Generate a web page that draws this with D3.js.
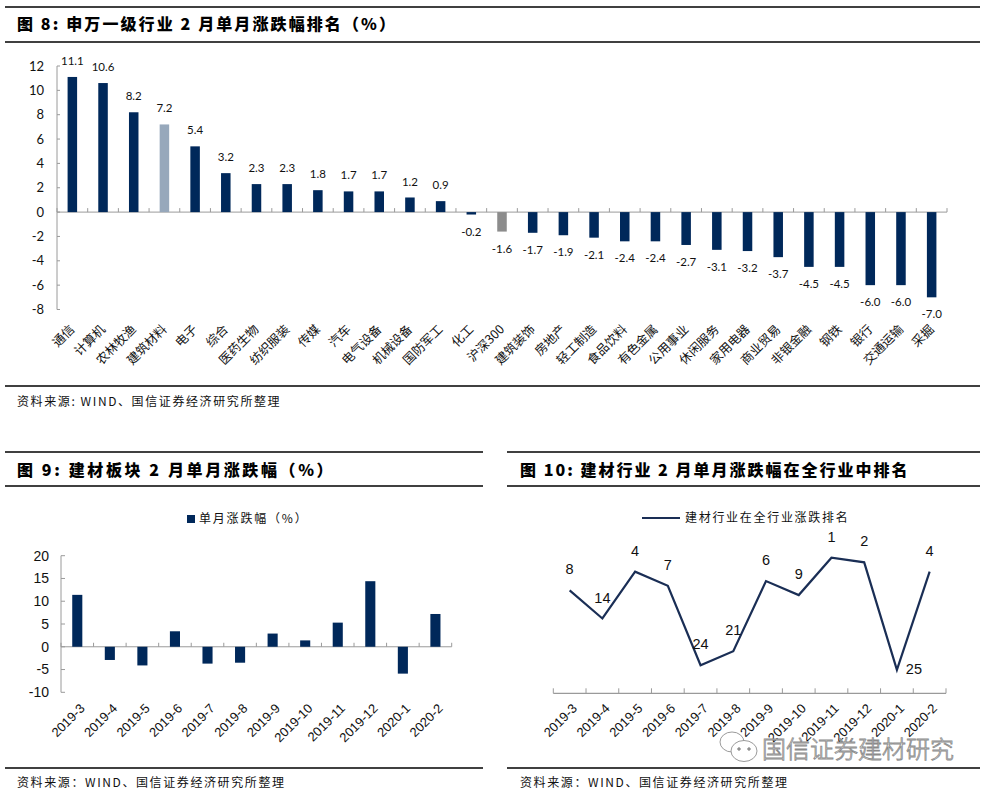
<!DOCTYPE html>
<html><head><meta charset="utf-8">
<script src="https://cdn.jsdelivr.net/npm/d3@7/dist/d3.min.js"></script>
<style>
html,body{margin:0;padding:0;background:#fff;}
svg{display:block;}
</style></head>
<body>
<svg id="c" width="984" height="795"></svg>
<script>
// ---- Data: Figure 8 ----
const industries = ["通信","计算机","农林牧渔","建筑材料","电子","综合","医药生物","纺织服装","传媒","汽车","电气设备","机械设备","国防军工","化工","沪深300","建筑装饰","房地产","轻工制造","食品饮料","有色金属","公用事业","休闲服务","家用电器","商业贸易","非银金融","钢铁","银行","交通运输","采掘"];
const industryChange = [11.1,10.6,8.2,7.2,5.4,3.2,2.3,2.3,1.8,1.7,1.7,1.2,0.9,-0.2,-1.6,-1.7,-1.9,-2.1,-2.4,-2.4,-2.7,-3.1,-3.2,-3.7,-4.5,-4.5,-6.0,-6.0,-7.0];
const fig8Ticks = [-8,-6,-4,-2,0,2,4,6,8,10,12];

// ---- Data: Figure 9 ----
const months = ["2019-3","2019-4","2019-5","2019-6","2019-7","2019-8","2019-9","2019-10","2019-11","2019-12","2020-1","2020-2"];
const sectorChange = [11.4,-2.9,-4.1,3.4,-3.7,-3.5,2.9,1.4,5.3,14.4,-5.9,7.2];
const fig9Ticks = [-10,-5,0,5,10,15,20];

// ---- Data: Figure 10 ----
const sectorRank = [8,14,4,7,24,21,6,9,1,2,25,4];

const svg = d3.select("#c");
const NAVY = "#00285a";
const AXIS = "#9a9a9a";
const CJK = "'Noto Sans CJK SC', sans-serif";
const NUM = "Lato, 'Liberation Sans', sans-serif";
const ARIAL = "'Liberation Sans', Arial, sans-serif";

function hline(x1,x2,y,w){
  svg.append("line").attr("x1",x1).attr("x2",x2).attr("y1",y).attr("y2",y)
    .attr("stroke","#000").attr("stroke-width",w||1.3);
}
function title(x,y,t,ls){
  svg.append("text").attr("x",x).attr("y",y).attr("dy","0.35em")
    .attr("font-family",CJK).attr("font-weight",900).attr("font-size",16)
    .attr("letter-spacing",ls).attr("fill","#000").text(t);
}
function source(x,y,t){
  svg.append("text").attr("x",x).attr("y",y).attr("dy","0.35em")
    .attr("font-family",CJK).attr("font-size",12).attr("letter-spacing",1.6)
    .attr("fill","#111").text(t);
}

// ================= Figure 8 =================
hline(5,980,7);
title(17,24,"图 8:  申万一级行业 2 月单月涨跌幅排名（%）",2.1);
hline(5,980,42);

const x8 = d3.scaleBand().domain(industries).range([57,947]).paddingInner(0.69).paddingOuter(0.345);
const y8 = d3.scaleLinear().domain([-8,12]).range([309.5,66]);
const g8 = svg.append("g");

// y axis
g8.append("line").attr("x1",57).attr("x2",57).attr("y1",y8(12)).attr("y2",y8(-8)).attr("stroke",AXIS);
g8.selectAll(".yt8").data(fig8Ticks).join("line")
  .attr("x1",57).attr("x2",60).attr("y1",d=>y8(d)).attr("y2",d=>y8(d)).attr("stroke",AXIS);
g8.selectAll(".yl8").data(fig8Ticks).join("text")
  .attr("x",44).attr("y",d=>y8(d)).attr("dy","0.35em").attr("text-anchor","end")
  .attr("font-family",NUM).attr("font-size",13).attr("fill","#111").text(d=>d);

// x axis at zero
g8.append("line").attr("x1",57).attr("x2",947).attr("y1",y8(0)).attr("y2",y8(0)).attr("stroke",AXIS);
const step8 = x8.step();
g8.selectAll(".xt8").data(d3.range(industries.length+1)).join("line")
  .attr("x1",i=>57+i*step8).attr("x2",i=>57+i*step8)
  .attr("y1",y8(0)).attr("y2",y8(0)-4).attr("stroke",AXIS);

function barColor8(d){
  if(d==="建筑材料") return "#97a8bb";
  if(d==="沪深300") return "#8c8c8c";
  return NAVY;
}
g8.selectAll(".b8").data(industries).join("rect")
  .attr("x",d=>x8(d)).attr("width",x8.bandwidth())
  .attr("y",(d,i)=>y8(Math.max(0,industryChange[i])))
  .attr("height",(d,i)=>Math.abs(y8(industryChange[i])-y8(0)))
  .attr("fill",barColor8);

g8.selectAll(".v8").data(industries).join("text")
  .attr("x",d=>x8(d)+x8.bandwidth()/2)
  .attr("y",(d,i)=>industryChange[i]>=0 ? y8(industryChange[i])-16 : y8(industryChange[i])+17)
  .attr("dy","0.35em").attr("text-anchor","middle")
  .attr("font-family",NUM).attr("font-size",11.5).attr("fill","#111")
  .text((d,i)=>industryChange[i].toFixed(1));

g8.selectAll(".xl8").data(industries).join("text")
  .attr("transform",d=>`translate(${x8(d)+x8.bandwidth()/2},${327}) rotate(-45)`)
  .attr("text-anchor","end").attr("dy","0.35em")
  .attr("font-family",CJK).attr("font-size",12.5).attr("fill","#111").text(d=>d);

hline(5,980,386);
source(17,402,"资料来源: WIND、国信证券经济研究所整理");

// ================= Figure 9 =================
hline(5,483,452);
title(17,470,"图 9:  建材板块 2 月单月涨跌幅（%）",2.6);
hline(5,483,486);

const x9 = d3.scaleBand().domain(months).range([61,451.7]).paddingInner(0.69).paddingOuter(0.345);
const y9 = d3.scaleLinear().domain([-10,20]).range([692.3,555.7]);
const g9 = svg.append("g");

// legend
g9.append("rect").attr("x",187).attr("y",515).attr("width",8).attr("height",8).attr("fill",NAVY);
g9.append("text").attr("x",199).attr("y",519).attr("dy","0.35em").attr("letter-spacing",1.8)
  .attr("font-family",CJK).attr("font-size",12).attr("fill","#111").text("单月涨跌幅（%）");

g9.append("line").attr("x1",61).attr("x2",61).attr("y1",y9(20)).attr("y2",y9(-10)).attr("stroke",AXIS);
g9.selectAll(".yt9").data(fig9Ticks).join("line")
  .attr("x1",61).attr("x2",65).attr("y1",d=>y9(d)).attr("y2",d=>y9(d)).attr("stroke",AXIS);
g9.selectAll(".yl9").data(fig9Ticks).join("text")
  .attr("x",49).attr("y",d=>y9(d)).attr("dy","0.35em").attr("text-anchor","end")
  .attr("font-family",ARIAL).attr("font-size",14).attr("fill","#111").text(d=>d);

g9.append("line").attr("x1",61).attr("x2",451.7).attr("y1",y9(0)).attr("y2",y9(0)).attr("stroke",AXIS);
const step9 = x9.step();
g9.selectAll(".xt9").data(d3.range(months.length+1)).join("line")
  .attr("x1",i=>61+i*step9).attr("x2",i=>61+i*step9)
  .attr("y1",y9(0)).attr("y2",y9(0)-4).attr("stroke",AXIS);

g9.selectAll(".b9").data(months).join("rect")
  .attr("x",d=>x9(d)).attr("width",x9.bandwidth())
  .attr("y",(d,i)=>y9(Math.max(0,sectorChange[i])))
  .attr("height",(d,i)=>Math.abs(y9(sectorChange[i])-y9(0)))
  .attr("fill",NAVY);

g9.selectAll(".xl9").data(months).join("text")
  .attr("transform",d=>`translate(${x9(d)+x9.bandwidth()/2+5},${706}) rotate(-45)`)
  .attr("text-anchor","end").attr("dy","0.35em")
  .attr("font-family",ARIAL).attr("font-size",13).attr("fill","#111").text(d=>d);

hline(5,483,768);
source(17,783,"资料来源：WIND、国信证券经济研究所整理");

// ================= Figure 10 =================
hline(507,980,452);
title(520,470,"图 10:  建材行业 2 月单月涨跌幅在全行业中排名",2.0);
hline(507,980,486);

const x10 = d3.scaleBand().domain(months).range([553.3,946]);
const y10 = d3.scaleLinear().domain([0,30]).range([553,693.3]);
const g10 = svg.append("g");

g10.append("line").attr("x1",642).attr("x2",680).attr("y1",518).attr("y2",518)
  .attr("stroke","#1a2e55").attr("stroke-width",2);
g10.append("text").attr("x",685).attr("y",518).attr("dy","0.35em").attr("letter-spacing",1.7)
  .attr("font-family",CJK).attr("font-size",12).attr("fill","#111").text("建材行业在全行业涨跌排名");

g10.append("line").attr("x1",553.3).attr("x2",946).attr("y1",y10(30)).attr("y2",y10(30)).attr("stroke",AXIS).attr("stroke-width",1.2);
const step10 = x10.step();
g10.selectAll(".xt10").data(d3.range(months.length+1)).join("line")
  .attr("x1",i=>553.3+i*step10).attr("x2",i=>553.3+i*step10)
  .attr("y1",y10(30)).attr("y2",y10(30)-5).attr("stroke",AXIS);

const cx10 = d=>x10(d)+x10.bandwidth()/2;
const line10 = d3.line().x((d,i)=>cx10(months[i])).y(d=>y10(d));
g10.append("path").datum(sectorRank).attr("d",line10)
  .attr("fill","none").attr("stroke","#1a2e55").attr("stroke-width",2.2).attr("stroke-linejoin","miter");

g10.selectAll(".v10").data(sectorRank).join("text")
  .attr("x",(d,i)=> i===10 ? cx10(months[i])+17 : cx10(months[i]))
  .attr("y",(d,i)=> i===10 ? y10(d)-1 : y10(d)-21)
  .attr("dy","0.35em").attr("text-anchor","middle")
  .attr("font-family",ARIAL).attr("font-size",14.5).attr("fill","#111").text(d=>d);

g10.selectAll(".xl10").data(months).join("text")
  .attr("transform",d=>`translate(${cx10(d)+5},${706}) rotate(-45)`)
  .attr("text-anchor","end").attr("dy","0.35em")
  .attr("font-family",ARIAL).attr("font-size",13).attr("fill","#111").text(d=>d);

// watermark
const wm = svg.append("g").attr("fill","#fff").attr("stroke","#8f8f8f").attr("stroke-width",0.9);
wm.append("ellipse").attr("cx",732).attr("cy",742).attr("rx",12).attr("ry",10);
wm.append("ellipse").attr("cx",744).attr("cy",751).attr("rx",13).attr("ry",10.5);
wm.append("circle").attr("cx",739).attr("cy",749).attr("r",1.3).attr("fill","#8f8f8f");
wm.append("circle").attr("cx",749).attr("cy",749).attr("r",1.3).attr("fill","#8f8f8f");
svg.append("text").attr("x",762).attr("y",749).attr("dy","0.36em")
  .attr("font-family",CJK).attr("font-weight",300).attr("font-size",24)
  .attr("fill","#fafafa").attr("stroke","#8a8a8a").attr("stroke-width",0.8)
  .attr("textLength",192).text("国信证券建材研究");

hline(507,980,768);
source(520,783,"资料来源：WIND、国信证券经济研究所整理");
</script>
</body></html>
